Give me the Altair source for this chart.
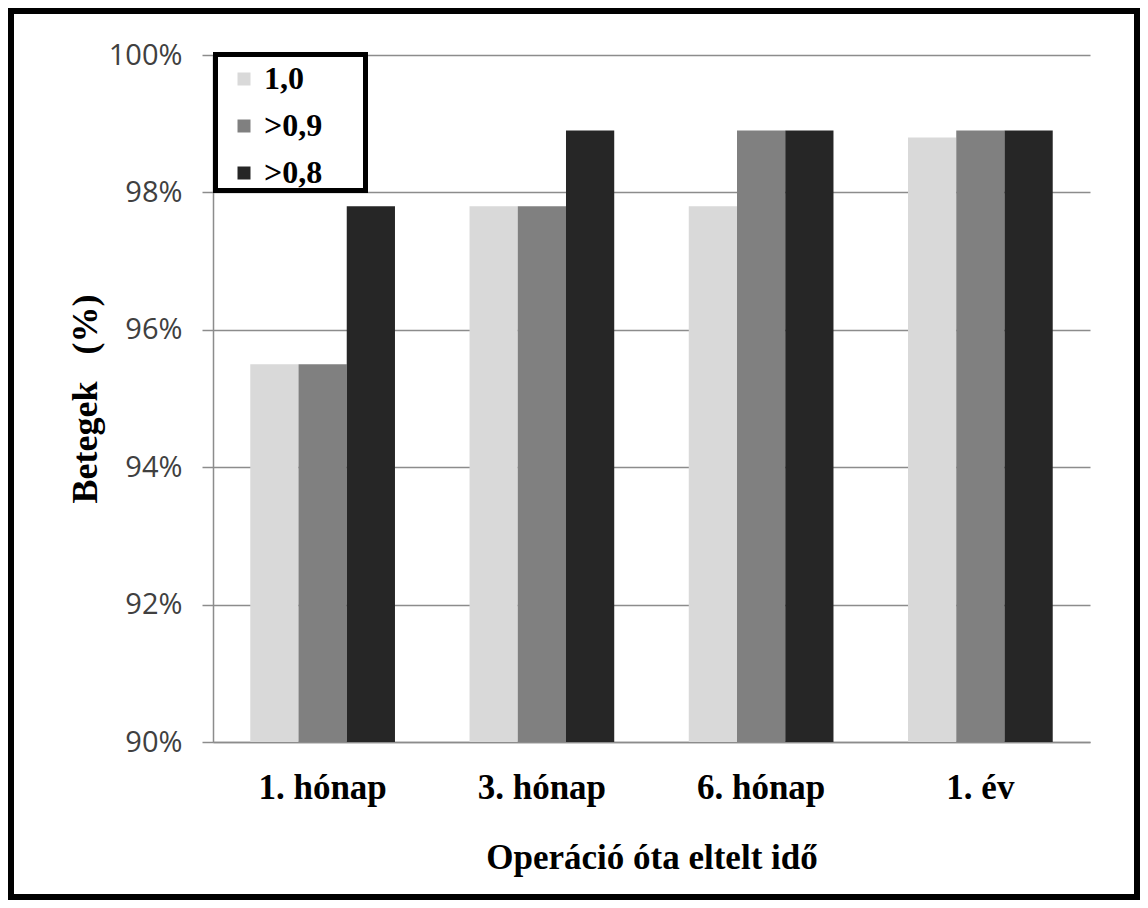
import altair as alt
import pandas as pd

periods = ["1. hónap", "3. hónap", "6. hónap", "1. év"]
series = ["1,0", ">0,9", ">0,8"]
colors = ["#D9D9D9", "#808080", "#262626"]
values_10 = [0.955, 0.978, 0.978, 0.988]
values_09 = [0.955, 0.978, 0.989, 0.989]
values_08 = [0.978, 0.989, 0.989, 0.989]
y_ticks = [0.90, 0.92, 0.94, 0.96, 0.98, 1.00]

rows = []
for s, vals in zip(series, [values_10, values_09, values_08]):
    for p, v in zip(periods, vals):
        rows.append({"period": p, "series": s, "value": v})
df = pd.DataFrame(rows)

W, H = 877, 687
serif = "Liberation Serif"

bars = alt.Chart(df).mark_bar().encode(
    x=alt.X("period:N", sort=periods,
            scale=alt.Scale(paddingInner=0.34, paddingOuter=0.17),
            axis=alt.Axis(title="Operáció óta eltelt idő", labelAngle=0, ticks=False,
                          labelFont=serif, labelFontWeight="bold", labelFontSize=35,
                          labelColor="#000000", labelPadding=28, labelBaseline="top",
                          titleFont=serif, titleFontWeight="bold", titleFontSize=35,
                          titleColor="#000000", titleY=126, titleBaseline="alphabetic",
                          domainColor="#8C8C8C", domainWidth=1.5, grid=False)),
    xOffset=alt.XOffset("series:N", sort=series, scale=alt.Scale(paddingInner=0, paddingOuter=0)),
    y=alt.Y("value:Q",
            scale=alt.Scale(domain=[0.90, 1.00], zero=False, nice=False),
            axis=alt.Axis(title="Betegek\u00a0\u00a0\u00a0(%)", values=y_ticks, format=".0%",
                          labelFont="Open Sans", labelFontSize=29, labelColor="#404040",
                          labelPadding=20, tickSize=11, tickColor="#8C8C8C", tickWidth=1.5,
                          domainColor="#8C8C8C", domainWidth=1.5,
                          gridColor="#8C8C8C", gridWidth=1.5,
                          titleFont=serif, titleFontWeight="bold", titleFontSize=36,
                          titleColor="#000000", titleX=-128, titleY=H / 2,
                          titleAngle=-90, titleAlign="center", titleBaseline="middle")),
    y2=alt.datum(0.90),
    color=alt.Color("series:N", sort=series,
                    scale=alt.Scale(domain=series, range=colors),
                    title=None,
                    legend=alt.Legend(orient="none", legendX=15, legendY=8,
                                      symbolType="square", symbolSize=169,
                                      symbolStrokeWidth=0,
                                      labelFont=serif, labelFontWeight="bold",
                                      labelFontSize=32, labelColor="#000000",
                                      labelOffset=4, rowPadding=15, padding=0)),
)

one = pd.DataFrame({"a": [0]})
legend_box = alt.Chart(one).mark_rect(fill="white", stroke="black", strokeWidth=5).encode(
    x=alt.value(2.5), x2=alt.value(152.5), y=alt.value(-0.5), y2=alt.value(135.5)
)
frame = alt.Chart(one).mark_rect(fill="transparent", stroke="black", strokeWidth=6).encode(
    x=alt.value(-202), x2=alt.value(924), y=alt.value(-44), y2=alt.value(842)
)

chart = alt.layer(bars, legend_box, frame).properties(
    width=W, height=H,
    autosize=alt.AutoSizeParams(type="none"),
    padding={"left": 205, "top": 47, "right": 50, "bottom": 158},
    background="white",
).configure_view(stroke=None)

chart.save("out.html", embed_options={"renderer": "svg", "actions": False})
